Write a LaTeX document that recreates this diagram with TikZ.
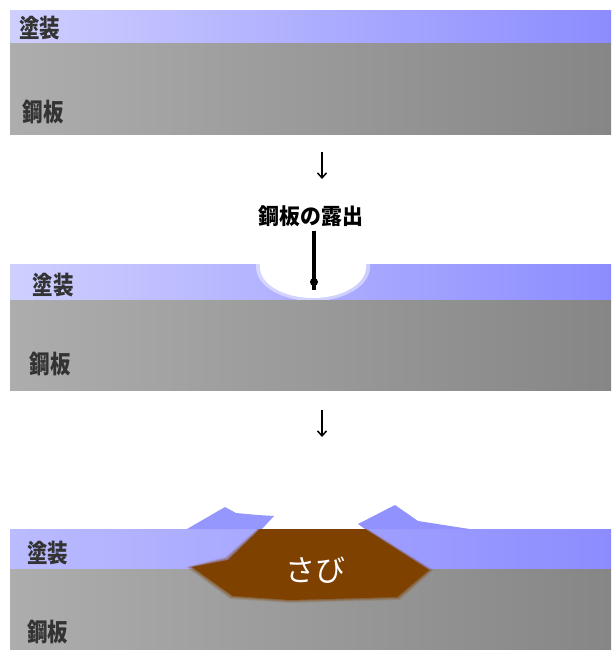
\documentclass[tikz,border=0pt]{standalone}
\usepackage{fontspec}
\newfontfamily\jp{Noto Sans CJK JP}
\usetikzlibrary{arrows.meta}
\definecolor{coatL}{HTML}{CFCFFF}
\definecolor{coatR}{HTML}{8C8CFF}
\definecolor{steelL}{HTML}{ADADAD}
\definecolor{steelR}{HTML}{868686}
\definecolor{rust}{HTML}{7E4100}
\tikzset{
  coat/.style={left color=coatL, right color=coatR, draw=none},
  coat3/.style={left color=coatL!70!coatR, right color=coatR, draw=none},
  steel/.style={left color=steelL, right color=steelR, draw=none},
  layerlabel/.style={font=\jp\bfseries\fontsize{25}{25}\selectfont, text=black!80, xscale=0.82, inner sep=0},
  stepdown/.style={line width=1.5pt, -{Straight Barb[length=5pt,width=9pt]}},
}
\begin{document}
\begin{tikzpicture}[x=1pt,y=-1pt]
\useasboundingbox (0,0) rectangle (611,650);

% --- stage 1: intact coating on steel plate
\fill[coat] (10,11) rectangle (611,44);
\fill[steel] (10,44) rectangle (611,134);
\node[layerlabel] (c1) at (40,28) {塗装};
\node[layerlabel] (s1) at (43,112) {鋼板};

\coordinate (a1s) at (322,152);
\coordinate (a1e) at (322,179);
\draw[stepdown] (a1s) -- (a1e);

% --- stage 2: coating damaged, steel exposed
\fill[coat] (10,264) rectangle (611,300);
\fill[white, opacity=0.45] (256,264) -- (256,267) arc[start angle=180, end angle=0, x radius=57, y radius=34] -- (370,264) -- cycle;
\fill[white] (260,264) -- (260,267) arc[start angle=180, end angle=0, x radius=53, y radius=31] -- (366,264) -- cycle;
\fill[steel] (10,300) rectangle (611,390);
\node[layerlabel] (c2) at (53,285) {塗装};
\node[layerlabel] (s2) at (50,364) {鋼板};

\node[font=\jp\bfseries\fontsize{22}{22}\selectfont, inner sep=0, text=black, xscale=0.95] (exp) at (311,216) {鋼板の露出};
\node[circle, fill=black, minimum size=8pt, inner sep=0] (dot) at (314,282) {};
\draw[line width=4pt] (exp.south -| dot) ++(0,4) -- (dot.center) -- ++(0,8);

\coordinate (a2s) at (322,410);
\coordinate (a2e) at (322,437);
\draw[stepdown] (a2s) -- (a2e);

% --- stage 3: rust grows under the coating and lifts it
\fill[coat3] (10,529) rectangle (611,569);
\fill[steel] (10,569) rectangle (611,650);
% lifted coating flakes
\fill[coatR!85!coatL] (187,529) -- (225,507) -- (236,513) -- (258,515) -- (274,516) -- (262,529) -- cycle;
\fill[coatR!95!white] (358,524) -- (395,505) -- (418,521) -- (463,528) -- (470,529) -- (365,529) -- cycle;
% rust body, soft rim first
\foreach \g/\o in {3/0.15, 2/0.25, 1/0.35}{
  \fill[rust, opacity=\o] (260-\g,529) -- (365+\g,529) -- (429+1.5*\g,570) -- (397+\g,597+\g) -- (290,600+\g) -- (233-\g,596+\g) -- (192-2*\g,567) -- (228-\g,560-\g) -- cycle;
}
\fill[rust] (260,529) -- (365,529) -- (429,570) -- (397,597) -- (290,600) -- (233,596) -- (192,567) -- (228,560) -- cycle;
\node[font=\jp\fontsize{30}{30}\selectfont, text=white, inner sep=0] (rust) at (315,570) {さび};
\node[layerlabel] (c3) at (48,553) {塗装};
\node[layerlabel] (s3) at (48,632) {鋼板};
\end{tikzpicture}
\end{document}
